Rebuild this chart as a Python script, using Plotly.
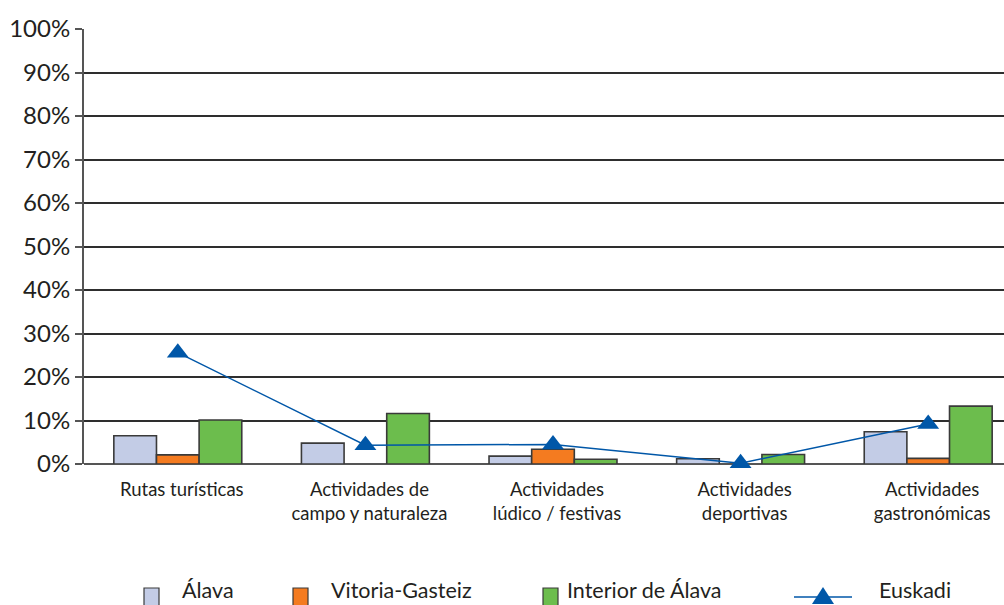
import plotly.graph_objects as go

# Categories and series (percentages)
categories = [
    "Rutas turísticas",
    "Actividades de<br>campo y naturaleza",
    "Actividades<br>lúdico / festivas",
    "Actividades<br>deportivas",
    "Actividades<br>gastronómicas",
]
alava = [6.5, 4.8, 1.8, 1.2, 7.4]
vitoria_gasteiz = [2.1, None, 3.4, None, 1.3]
interior_alava = [10.1, 11.6, 1.1, 2.2, 13.3]
euskadi = [25.6, 4.3, 4.5, 0.2, 9.2]

y_ticks = [0, 10, 20, 30, 40, 50, 60, 70, 80, 90, 100]
y_tick_labels = [f"{v}%" for v in y_ticks]

series_names = ["Álava", "Vitoria-Gasteiz", "Interior de Álava", "Euskadi"]
colors = ["#C3CCE6", "#F47B20", "#6CBD4D", "#0057A8"]

W, H = 1004, 605
L, R, T, B = 84, 0, 29, 141
PW, PH = W - L - R, H - T - B
FONT = "Lato"
INK = "#231F20"

x_idx = list(range(len(categories)))

fig = go.Figure()
for name, vals, col in zip(series_names[:3], [alava, vitoria_gasteiz, interior_alava], colors[:3]):
    fig.add_trace(go.Bar(
        x=x_idx, y=vals, name=name, marker_color=col,
        marker_line_color="#3A3A3A", marker_line_width=1.6,
        showlegend=False,
    ))
fig.add_trace(go.Scatter(
    x=x_idx, y=euskadi, name=series_names[3], mode="lines+markers",
    line=dict(color=colors[3], width=1.5),
    marker=dict(symbol="triangle-up", size=19, color=colors[3]),
    cliponaxis=False, showlegend=False,
))


def px(x):
    return (x - L) / PW


def py(y):
    return (H - B - y) / PH


shapes = []
annotations = []
# Hand-built legend along the bottom edge
legend_y = 590
for name, col, sq_x, tx in zip(series_names[:3], colors[:3], [144, 293, 543], [180, 329, 565]):
    shapes.append(dict(type="rect", xref="paper", yref="paper",
                       x0=px(sq_x), x1=px(sq_x + 15), y0=py(588), y1=py(614),
                       fillcolor=col, line=dict(color="#3A3A3A", width=1.2)))
    annotations.append(dict(xref="paper", yref="paper", x=px(tx), y=py(legend_y),
                            text=name, showarrow=False, xanchor="left", yanchor="middle",
                            font=dict(family=FONT, size=21.5, color=INK)))
shapes.append(dict(type="line", xref="paper", yref="paper",
                   x0=px(794), x1=px(852), y0=py(597), y1=py(597),
                   line=dict(color=colors[3], width=1.5)))
shapes.append(dict(type="path", xref="paper", yref="paper",
                   path=f"M {px(812)},{py(604)} L {px(834)},{py(604)} L {px(823)},{py(587)} Z",
                   fillcolor=colors[3], line=dict(color=colors[3], width=0)))
annotations.append(dict(xref="paper", yref="paper", x=px(877), y=py(legend_y),
                        text=series_names[3], showarrow=False, xanchor="left", yanchor="middle",
                        font=dict(family=FONT, size=21.5, color=INK)))

unit = 187.6
fig.update_layout(
    width=W, height=H,
    margin=dict(l=L, r=R, t=T, b=B, pad=0),
    paper_bgcolor="white", plot_bgcolor="white",
    barmode="group", bargap=0.318, bargroupgap=0,
    font=dict(family=FONT, color=INK),
    shapes=shapes, annotations=annotations,
    xaxis=dict(
        range=[-0.5, -0.5 + PW / unit],
        tickmode="array", tickvals=x_idx, ticktext=categories,
        showgrid=False, zeroline=False, showline=False, ticks="",
        tickfont=dict(family=FONT, size=18.5, color=INK),
        ticklabelstandoff=12, ticklabelshift=4,
    ),
    yaxis=dict(
        range=[0, 100],
        tickmode="array", tickvals=y_ticks, ticktext=y_tick_labels,
        showgrid=True, gridcolor="#2E2E2E", gridwidth=1.5,
        zeroline=True, zerolinecolor="#555555", zerolinewidth=2,
        showline=True, linecolor="#555555", linewidth=2,
        ticks="outside", ticklen=7, tickcolor="#555555", tickwidth=1.5,
        tickfont=dict(family=FONT, size=24, color=INK),
        ticklabelstandoff=0,
    ),
)

fig.write_html("out.html")
